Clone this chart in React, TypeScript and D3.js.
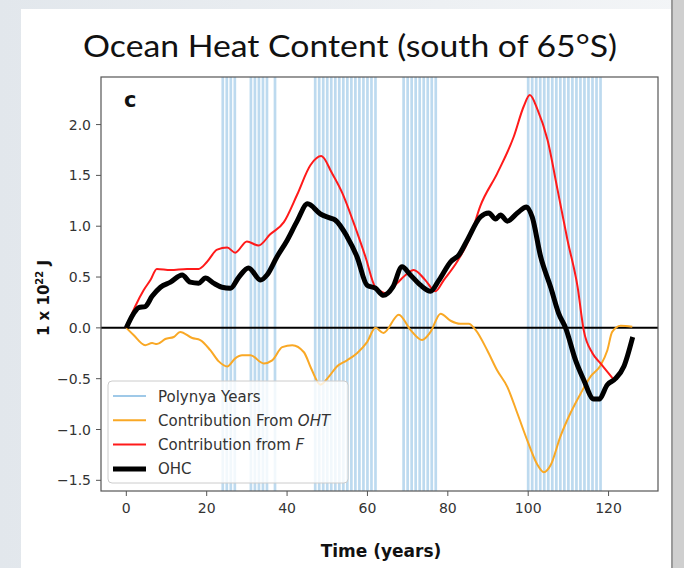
import React from 'react';
import * as d3 from 'd3';

// values: [year, 1e22 J]
const ohc: [number, number][] = [
  [0, 0], [1.8, 0.14], [3.1, 0.2], [4.7, 0.21], [6.4, 0.31], [8.5, 0.4], [11, 0.45], [13.9, 0.52],
  [15.9, 0.45], [18, 0.44], [19.7, 0.49], [21.7, 0.44], [23.8, 0.4], [25.9, 0.39], [28, 0.5],
  [30.4, 0.59], [33.4, 0.47], [35, 0.52], [37.5, 0.7], [40, 0.86], [42.5, 1.05], [45.1, 1.22],
  [48.3, 1.12], [50.8, 1.08], [52, 1.06], [54.9, 0.9], [57.4, 0.7], [59.9, 0.42], [62, 0.39],
  [64, 0.32], [66.3, 0.4], [68.6, 0.6], [70.7, 0.52], [73.2, 0.42], [75.7, 0.36], [77.8, 0.47],
  [80.7, 0.65], [82.8, 0.72], [84.8, 0.86], [88.1, 1.09], [90.2, 1.13], [91.9, 1.07], [93.1, 1.11],
  [94.8, 1.05], [97.3, 1.13], [99.6, 1.19], [101, 1.09], [103.1, 0.7], [105.6, 0.4], [107.6, 0.14],
  [109.3, 0], [111.8, -0.32], [113.8, -0.51], [116.3, -0.7], [117.6, -0.7], [119.7, -0.56],
  [121.7, -0.5], [123.8, -0.38], [126, -0.09],
];

const fluxF: [number, number][] = [
  [0, 0], [2.2, 0.21], [4.3, 0.37], [6, 0.47], [7.6, 0.58], [11, 0.57], [15.1, 0.58], [18, 0.58],
  [20.1, 0.65], [22.6, 0.77], [25.1, 0.79], [27.1, 0.74], [30, 0.85], [32.9, 0.81], [35.8, 0.92],
  [39.2, 1.04], [42.5, 1.31], [45.8, 1.6], [48.5, 1.69], [51.2, 1.52], [53.7, 1.33], [56.6, 1.03],
  [59.5, 0.7], [62, 0.4], [64.9, 0.34], [67.4, 0.44], [69.5, 0.52], [71.5, 0.57], [74.4, 0.47],
  [76.9, 0.36], [79, 0.47], [82.3, 0.65], [85.6, 0.9], [88.1, 1.2], [92.3, 1.52], [96.4, 1.88],
  [98.9, 2.18], [100.4, 2.29], [102.3, 2.15], [104.8, 1.85], [107.3, 1.36], [109.8, 0.86],
  [112.3, 0.4], [113.8, -0.02], [116, -0.25], [118, -0.35], [121.3, -0.51],
];

const oht: [number, number][] = [
  [0, 0], [1.8, -0.07], [4.7, -0.17], [6.4, -0.15], [7.6, -0.16], [9.7, -0.11], [11.8, -0.09],
  [13.4, -0.04], [16.4, -0.1], [18.4, -0.12], [20.9, -0.22], [23, -0.33], [25.1, -0.38],
  [27.1, -0.3], [28.8, -0.27], [30.9, -0.27], [34.2, -0.35], [36.3, -0.32], [38.8, -0.19],
  [41.3, -0.17], [44.2, -0.24], [46, -0.4], [48.3, -0.56], [50.4, -0.48], [52.4, -0.38],
  [54.9, -0.32], [57.4, -0.25], [59.9, -0.14], [62, 0], [64, -0.05], [67.8, 0.13], [70.7, -0.02],
  [73.6, -0.12], [75.7, -0.04], [78.2, 0.14], [80.7, 0.07], [83.1, 0.04], [85.2, 0.04],
  [86.9, -0.02], [89.8, -0.22], [92.3, -0.42], [94.8, -0.58], [97.3, -0.84], [99.8, -1.11],
  [102.2, -1.34], [103.9, -1.42], [105.6, -1.35], [108, -1.07], [110.5, -0.84], [113, -0.65],
  [115.5, -0.48], [118, -0.37], [119.7, -0.22], [120.9, -0.04], [123, 0.02], [125.9, 0.01],
];

const polynyaYears = [
  24, 25, 26, 27,
  31, 32, 33, 34, 35,
  37,
  47, 48, 49, 50, 51, 52, 53, 54, 55, 56, 57, 58, 59, 60, 61, 62,
  69, 70, 71, 72, 73, 74, 75, 76, 77,
  100, 101, 102, 103, 104, 105, 106, 107, 108, 109, 110, 111, 112, 113, 114, 115, 116, 117, 118,
];

const xTicks = [0, 20, 40, 60, 80, 100, 120];
const yTicks = [-1.5, -1.0, -0.5, 0.0, 0.5, 1.0, 1.5, 2.0];

const legendItems = [
  { label: 'Polynya Years', color: '#9fc9e8', width: 2 },
  { label: 'Contribution From ', italic: 'OHT', color: '#f9a825', width: 2 },
  { label: 'Contribution from ', italic: 'F', color: '#ff1a1a', width: 2 },
  { label: 'OHC', color: '#000', width: 5 },
];

const W = 684;
const H = 568;
const box = { left: 101, right: 658, top: 77, bottom: 491 };

export default function App() {
  const x = d3.scaleLinear().domain([-6.3, 132.3]).range([box.left, box.right]);
  const y = d3.scaleLinear().domain([-1.605, 2.468]).range([box.bottom, box.top]);
  const line = d3
    .line<[number, number]>()
    .x(d => x(d[0]))
    .y(d => y(d[1]))
    .curve(d3.curveMonotoneX);
  const fmt = d3.format('.1f');
  const font = 'DejaVu Sans, sans-serif';

  return (
    <svg width={W} height={H} style={{ position: 'absolute', left: 0, top: 0 }}>
      <defs>
        <linearGradient id="edge" x1="0" x2="1" y1="0" y2="0">
          <stop offset="0" stopColor="#e2e7ec" />
          <stop offset="1" stopColor="#f3f5f7" />
        </linearGradient>
        <clipPath id="plot">
          <rect x={box.left} y={box.top} width={box.right - box.left} height={box.bottom - box.top} />
        </clipPath>
      </defs>

      {/* slide background */}
      <rect x={0} y={0} width={W} height={H} fill="url(#edge)" />
      <rect x={21} y={9} width={650} height={H - 9} fill="#fff" />
      <rect x={671} y={0} width={2} height={H} fill="#9a9a9a" />
      <rect x={673} y={0} width={11} height={H} fill="#cfcfcf" />

      <text x={350} y={57} textAnchor="middle" fontFamily="Lato, sans-serif" fontSize={31}
        textLength={534} lengthAdjust="spacingAndGlyphs" fill="#111">
        Ocean Heat Content (south of 65°S)
      </text>

      {/* polynya years */}
      <g clipPath="url(#plot)">
        {polynyaYears.map(yr => (
          <line key={yr} x1={x(yr)} x2={x(yr)} y1={box.top} y2={box.bottom}
            stroke="#86bce2" strokeOpacity={0.55} strokeWidth={2.7} />
        ))}
        <line x1={box.left} x2={box.right} y1={y(0)} y2={y(0)} stroke="#000" strokeWidth={2} />
        <path d={line(oht) ?? ''} fill="none" stroke="#f9a825" strokeWidth={2} />
        <path d={line(fluxF) ?? ''} fill="none" stroke="#ff1a1a" strokeWidth={2} />
        <path d={line(ohc) ?? ''} fill="none" stroke="#000" strokeWidth={5} strokeLinejoin="round" />
      </g>

      {/* frame */}
      <rect x={box.left} y={box.top} width={box.right - box.left} height={box.bottom - box.top}
        fill="none" stroke="#555" strokeWidth={1.2} />

      {/* x axis */}
      {xTicks.map(t => (
        <g key={t}>
          <line x1={x(t)} x2={x(t)} y1={box.bottom} y2={box.bottom + 5} stroke="#555" />
          <text x={x(t)} y={box.bottom + 22} textAnchor="middle" fontFamily={font} fontSize={14} fill="#333">
            {t}
          </text>
        </g>
      ))}
      {/* y axis */}
      {yTicks.map(t => (
        <g key={t}>
          <line x1={box.left - 5} x2={box.left} y1={y(t)} y2={y(t)} stroke="#555" />
          <text x={box.left - 10} y={y(t) + 5} textAnchor="end" fontFamily={font} fontSize={14} fill="#333">
            {fmt(t)}
          </text>
        </g>
      ))}

      <text x={381} y={557} textAnchor="middle" fontFamily={font} fontSize={17} fontWeight="bold" fill="#111">
        Time (years)
      </text>
      <text transform="translate(49,298) rotate(-90)" textAnchor="middle" fontFamily={font}
        fontSize={15} fontWeight="bold" fill="#111">
        1 x 10<tspan dy={-6} fontSize={10}>22</tspan><tspan dy={6}> J</tspan>
      </text>
      <text x={124} y={107} fontFamily={font} fontSize={21} fontWeight="bold" fill="#111">c</text>

      {/* legend */}
      <rect x={108} y={381} width={240} height={102} rx={4} fill="#fff" fillOpacity={0.8}
        stroke="#ccc" strokeWidth={1} />
      {legendItems.map((item, i) => {
        const ly = 396 + i * 24.3;
        return (
          <g key={item.label + i}>
            <line x1={113} x2={146} y1={ly} y2={ly} stroke={item.color} strokeWidth={item.width} />
            <text x={158} y={ly + 5.5} fontFamily={font} fontSize={15} fill="#333">
              {item.label}
              {item.italic && <tspan fontStyle="italic">{item.italic}</tspan>}
            </text>
          </g>
        );
      })}
    </svg>
  );
}
